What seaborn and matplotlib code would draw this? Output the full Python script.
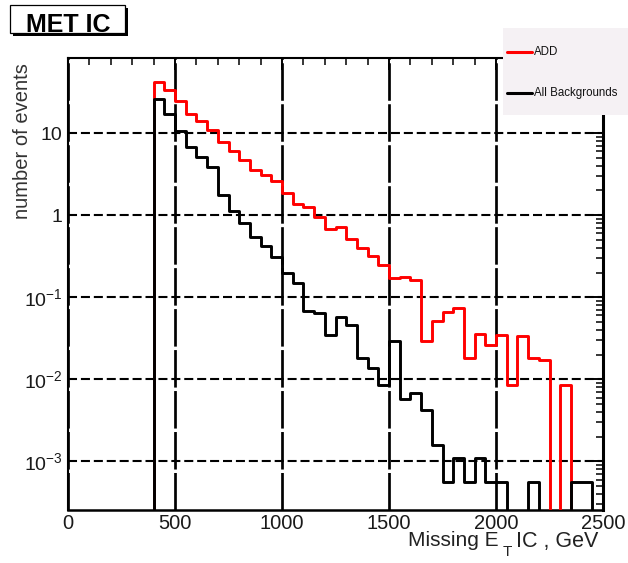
import numpy as np
import pandas as pd
import matplotlib
matplotlib.use("Agg")
import matplotlib.pyplot as plt
import seaborn as sns
from matplotlib.patches import Rectangle
from matplotlib.lines import Line2D
from matplotlib.ticker import MultipleLocator, LogLocator, FuncFormatter, NullFormatter

# ---- data: weighted event counts per 50 GeV bin, starting at 400 GeV ----
bin_width = 50
first_edge = 400
last_edge = 2500

add_signal = [42, 33.5, 24.5, 17.2, 14.1, 10.8, 7.8, 6.1, 4.7, 3.5,
              3.05, 2.6, 1.84, 1.38, 1.27, 0.94, 0.67, 0.71, 0.51, 0.40,
              0.32, 0.25, 0.17, 0.176, 0.164, 0.029, 0.051, 0.066, 0.075, 0.018,
              0.036, 0.026, 0.035, 0.0085, 0.034, 0.018, 0.0173, 0, 0.0085, 0,
              0, 0]
all_backgrounds = [26, 17.2, 10.5, 6.7, 5.1, 3.9, 1.76, 1.13, 0.80, 0.54,
                   0.42, 0.31, 0.20, 0.151, 0.068, 0.064, 0.035, 0.057, 0.046, 0.018,
                   0.0137, 0.0085, 0.029, 0.0058, 0.0068, 0.0042, 0.0016, 0.00057, 0.0011, 0.00057,
                   0.0011, 0.00057, 0.00057, 0, 0, 0.00057, 0, 0, 0, 0.00057,
                   0.00057, 0]

series_labels = ["ADD", "All Backgrounds"]
series_colors = ["#ff0000", "#000000"]
y_tick_text = {10.0: "10", 1.0: "1", 0.1: r"$10^{-1}$", 0.01: r"$10^{-2}$", 0.001: r"$10^{-3}$"}

# ---- style ----
sns.set_theme(style="white")
plt.rcParams["font.family"] = ["Liberation Sans", "DejaVu Sans"]
plt.rcParams["mathtext.fontset"] = "custom"
plt.rcParams["mathtext.rm"] = "Liberation Sans"
plt.rcParams["mathtext.it"] = "Liberation Sans:italic"
plt.rcParams["mathtext.bf"] = "Liberation Sans:bold"
plt.rcParams["lines.scale_dashes"] = False
plt.rcParams["text.color"] = "#111111"

W, H = 628, 563
fig = plt.figure(figsize=(W / 100, H / 100), dpi=100)
fig.patch.set_facecolor("white")


def fx(px):
    return px / W


def fy(py):
    return 1 - py / H


ax = fig.add_axes([fx(68), fy(509.5), fx(603) - fx(68), fy(58) - fy(509.5)])
ax.set_facecolor("white")
ax.set_yscale("log")

centres = np.arange(first_edge, last_edge, bin_width) + bin_width / 2
edges = np.arange(first_edge - bin_width, last_edge + 1, bin_width).tolist()

# signal first, background drawn over it
for vals, col, z in [(add_signal, series_colors[0], 3), (all_backgrounds, series_colors[1], 4)]:
    df = pd.DataFrame({"met": centres, "w": np.asarray(vals, dtype=float)})
    sns.histplot(data=df, x="met", weights="w", bins=edges,
                 element="step", fill=False, color=col, linewidth=2.1, ax=ax, zorder=z)

ax.set_xlim(0, 2500)
ax.set_ylim(2.6e-4, 82)
ax.set_xlabel("")
ax.set_ylabel("")

# ticks
ax.xaxis.set_major_locator(MultipleLocator(500))
ax.xaxis.set_minor_locator(MultipleLocator(100))
ax.yaxis.set_major_locator(LogLocator(base=10, numticks=20))
ax.yaxis.set_minor_locator(LogLocator(base=10, subs=np.arange(2, 10), numticks=40))
ax.yaxis.set_major_formatter(FuncFormatter(lambda v, p: y_tick_text.get(round(v, 6), "")))
ax.yaxis.set_minor_formatter(NullFormatter())
ax.tick_params(axis="both", which="both", direction="in", top=True, right=True, color="black")
ax.tick_params(axis="both", which="major", length=8.5, width=1.4)
ax.tick_params(axis="both", which="minor", length=5, width=1.1)
ax.tick_params(axis="x", which="major", pad=3.2, labelsize=14.5, labelcolor="#1a1a1a")
ax.tick_params(axis="y", which="major", pad=4, labelsize=14, labelcolor="#1a1a1a")

# grid
ax.grid(False)
ax.xaxis.grid(True, which="major", color="black", linewidth=1.95, linestyle=(0, (27, 2.5)), zorder=1)
ax.yaxis.grid(True, which="major", color="black", linewidth=1.5, linestyle=(0, (6.5, 2.8)), zorder=1)
ax.set_axisbelow(True)

for side, lw in [("left", 1.5), ("bottom", 1.8), ("right", 2.2), ("top", 1.5)]:
    ax.spines[side].set_visible(True)
    ax.spines[side].set_color("black")
    ax.spines[side].set_linewidth(lw)

# x-axis title, with the transverse subscript set well below the baseline
title_kw = dict(va="baseline", fontsize=15, color="#222222")
fig.text(fx(408), fy(546.5), "Missing E", ha="left", **title_kw)
fig.text(fx(507.5), fy(556.5), "T", ha="center", va="baseline", fontsize=11, color="#222222")
fig.text(fx(516), fy(546.5), "IC , GeV", ha="left", fontsize=15.5, va="baseline", color="#222222")

fig.text(fx(23), fy(63), "number of events", rotation=90, ha="center", va="top", fontsize=14.5,
         color="#333333")

# title box with drop shadow
fig.add_artist(Rectangle((fx(13), fy(36)), fx(115), 28 / H, transform=fig.transFigure,
                         facecolor="black", edgecolor="none", zorder=5))
fig.add_artist(Rectangle((fx(10), fy(33)), fx(115), 28 / H, transform=fig.transFigure,
                         facecolor="white", edgecolor="black", linewidth=0.9, zorder=6))
fig.text(fx(68.5), fy(32), "MET IC", ha="center", va="baseline", fontsize=18,
         fontweight="bold", color="black", zorder=7)

# legend panel
fig.add_artist(Rectangle((fx(503), fy(115)), fx(125), 87 / H, transform=fig.transFigure,
                         facecolor="#f5f1f4", edgecolor="none", zorder=8))
for label, col, ypx in [(series_labels[0], series_colors[0], 51.7), (series_labels[1], series_colors[1], 93)]:
    fig.add_artist(Line2D([fx(507), fx(532)], [fy(ypx), fy(ypx)], color=col, linewidth=2.2,
                          transform=fig.transFigure, zorder=9))
    fig.text(fx(534), fy(ypx), label, ha="left", va="center", fontsize=8.3, color="#111111", zorder=9)

fig.savefig("out.png", dpi=100)
